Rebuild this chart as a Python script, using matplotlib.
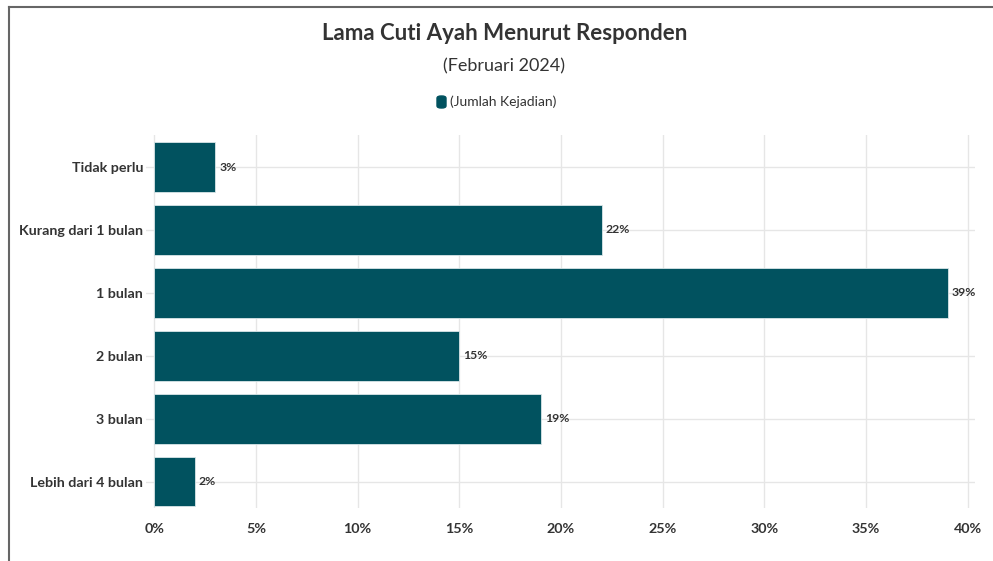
import matplotlib
matplotlib.use('Agg')
import matplotlib.pyplot as plt
from matplotlib.lines import Line2D
from matplotlib.patches import FancyBboxPatch

categories = ['Tidak perlu', 'Kurang dari 1 bulan', '1 bulan', '2 bulan', '3 bulan', 'Lebih dari 4 bulan']
values = [3, 22, 39, 15, 19, 2]
xticks = [0, 5, 10, 15, 20, 25, 30, 35, 40]

plt.rcParams['font.family'] = ['Lato', 'DejaVu Sans']
bar_color = '#01525f'
text_color = '#333333'

fig = plt.figure(figsize=(9.93, 5.61), dpi=100)
ax = fig.add_axes([146 / 993, 53 / 561, 829 / 993, 373 / 561])

y = list(range(len(categories)))
ax.barh(y, values, height=0.79, color=bar_color, edgecolor='#d9e6e8', linewidth=0.6, zorder=3)
for yi, v in zip(y, values):
    ax.text(v + 0.2, yi, f'{v}%', va='center', ha='left', fontsize=8.8,
            fontweight='bold', color=text_color)

ax.set_xlim(-0.4, 40.35)
ax.set_ylim(5.42, -0.51)
ax.set_xticks(xticks)
ax.set_xticklabels([f'{t}%' for t in xticks])
ax.set_yticks(y)
ax.set_yticklabels(categories)
ax.tick_params(length=0, labelsize=10.3, labelcolor=text_color)
ax.tick_params(axis='y', pad=2)
ax.tick_params(axis='x', pad=11)
for lab in ax.get_xticklabels() + ax.get_yticklabels():
    lab.set_fontweight('bold')
ax.grid(True, color='#e6e6e6', linewidth=1, zorder=0)
for s in ax.spines.values():
    s.set_visible(False)

fig.text(0.508, 1 - 33 / 561, 'Lama Cuti Ayah Menurut Responden', ha='center', va='center',
         fontsize=16, fontweight='bold', color=text_color)
fig.text(0.508, 1 - 66 / 561, '(Februari 2024)', ha='center', va='center',
         fontsize=13, color=text_color)

# legend
fig.patches.append(FancyBboxPatch((437 / 993, 1 - 108 / 561), 9 / 993, 12 / 561,
                                  boxstyle='round,pad=0,rounding_size=0.004',
                                  transform=fig.transFigure, color=bar_color))
fig.text(450 / 993, 1 - 102 / 561, '(Jumlah Kejadian)', ha='left', va='center',
         fontsize=10, color=text_color)

# frame
fig.lines.append(Line2D([8.5 / 993, 8.5 / 993], [0, 1 - 7 / 561], transform=fig.transFigure,
                        color='#666666', linewidth=1.5))
fig.lines.append(Line2D([8.5 / 993, 1], [1 - 7 / 561, 1 - 7 / 561], transform=fig.transFigure,
                        color='#666666', linewidth=1.5))

fig.savefig('out.png', dpi=100)
